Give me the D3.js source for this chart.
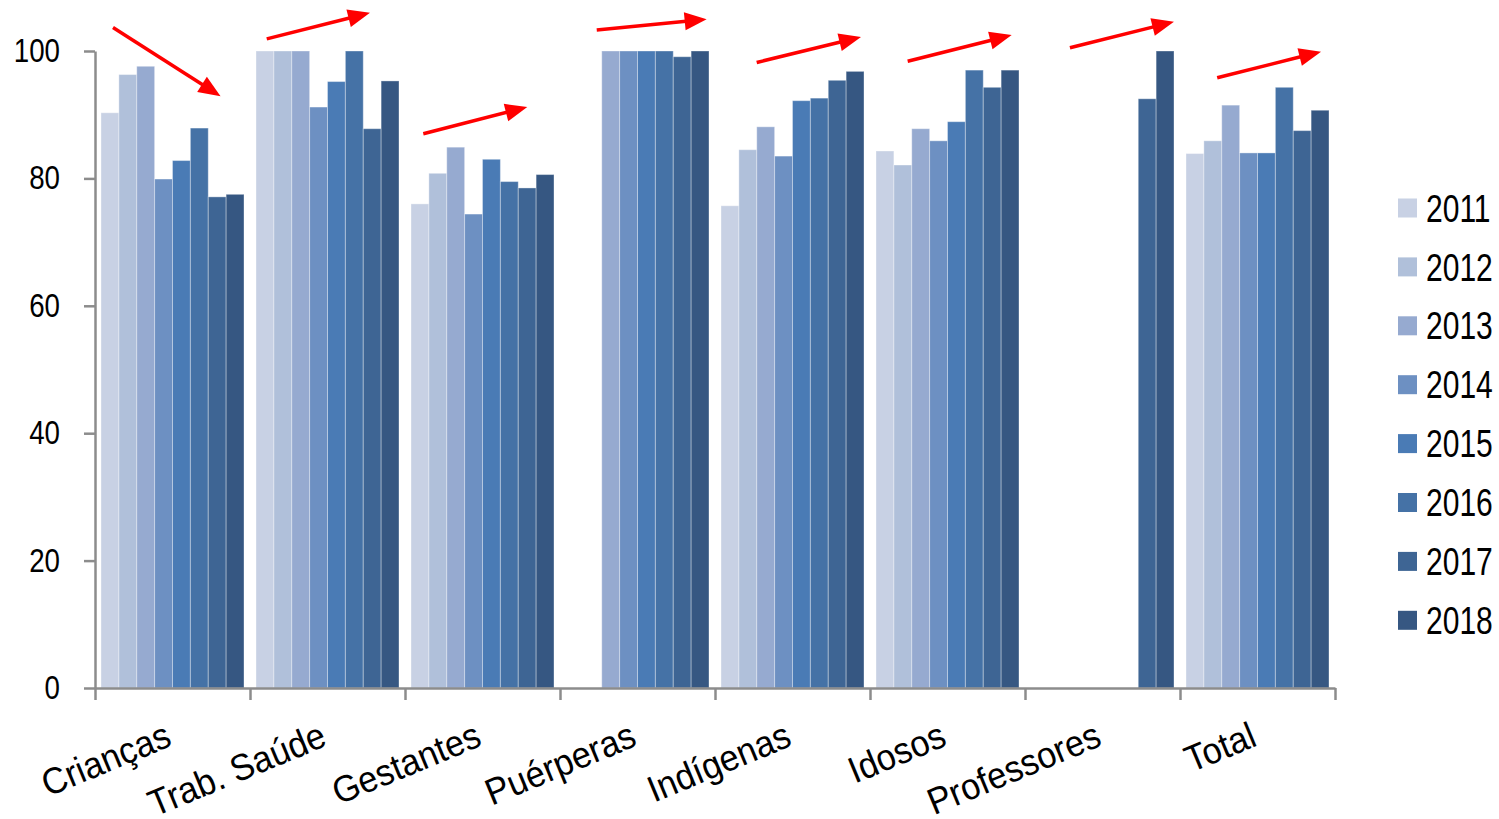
<!DOCTYPE html>
<html>
<head>
<meta charset="utf-8">
<script src="https://cdn.jsdelivr.net/npm/d3@7"></script>
<style>
  html, body { margin: 0; padding: 0; background: #fff; }
  svg { display: block; }
</style>
</head>
<body>
<svg id="chart" width="1499" height="819"></svg>
<script>
// ---- data ----
const categories = ["Crianças", "Trab. Saúde", "Gestantes", "Puérperas", "Indígenas", "Idosos", "Professores", "Total"];
const years = ["2011", "2012", "2013", "2014", "2015", "2016", "2017", "2018"];
const v2011 = [90.3, 100, 76.0, null, 75.7, 84.3, null, 83.9];
const v2012 = [96.3, 100, 80.8, null, 84.5, 82.1, null, 85.9];
const v2013 = [97.6, 100, 84.9, 100, 88.1, 87.8, null, 91.5];
const v2014 = [79.9, 91.2, 74.4, 100, 83.5, 85.9, null, 84.0];
const v2015 = [82.8, 95.2, 83.0, 100, 92.2, 88.9, null, 84.0];
const v2016 = [87.9, 100, 79.5, 100, 92.6, 97.0, null, 94.3];
const v2017 = [77.1, 87.8, 78.5, 99.1, 95.4, 94.3, 92.5, 87.5];
const v2018 = [77.5, 95.3, 80.6, 100, 96.8, 97.0, 100, 90.7];
const seriesValues = [v2011, v2012, v2013, v2014, v2015, v2016, v2017, v2018];
const yTicks = [0, 20, 40, 60, 80, 100];
const colors = ["#C8D1E4", "#B0C0DA", "#96AAD0", "#6D90C2", "#4A7BB5", "#4572A6", "#3E6594", "#365782"];
// trend arrows (position in category units, value units)
const arrowFromPos = [0.116, 1.108, 2.118, 3.237, 4.269, 5.243, 6.29, 7.24];
const arrowToPos   = [0.81, 1.774, 2.789, 3.946, 4.942, 5.914, 6.961, 7.91];
const arrowFromVal = [103.7, 101.9, 87.0, 103.3, 98.2, 98.4, 100.5, 95.8];
const arrowToVal   = [92.9, 106.0, 91.2, 105.0, 102.2, 102.5, 104.6, 99.9];

// ---- layout ----
const svg = d3.select("#chart");
const plotL = 95, plotR = 1335, plotT = 51, plotB = 688;
const fontFam = "'Liberation Sans', Arial, sans-serif";
const axisColor = "#8C8C8C";

const y = d3.scaleLinear().domain([0, 100]).range([plotB, plotT]);
const x0 = d3.scaleBand().domain(categories).range([plotL, plotR]).paddingInner(12 / 155).paddingOuter(6 / 155);
const x1 = d3.scaleBand().domain(years).range([0, x0.bandwidth()]);
const xi = d3.scaleLinear().domain([0, categories.length]).range([plotL, plotR]);
const color = d3.scaleOrdinal().domain(years).range(colors);

// bars
const barData = [];
categories.forEach((c, ci) => {
  years.forEach((yr, yi) => {
    const v = seriesValues[yi][ci];
    if (v != null) barData.push({ c, yr, v });
  });
});
svg.append("g").selectAll("rect").data(barData).join("rect")
  .attr("x", d => x0(d.c) + x1(d.yr))
  .attr("y", d => y(d.v))
  .attr("width", x1.bandwidth())
  .attr("height", d => y(0) - y(d.v))
  .attr("fill", d => color(d.yr))
  .attr("stroke", "rgba(255,255,255,0.35)")
  .attr("stroke-width", 1);

// y axis
const yTickSize = 11, yTickPad = 24, ySx = 0.84;
const yAxis = svg.append("g").attr("transform", `translate(${plotL},0)`)
  .call(d3.axisLeft(y).tickValues(yTicks).tickSize(yTickSize).tickSizeOuter(0).tickPadding(yTickPad));
yAxis.select(".domain").attr("stroke", axisColor).attr("stroke-width", 2.5);
yAxis.selectAll(".tick line").attr("stroke", axisColor).attr("stroke-width", 2.5);
yAxis.selectAll(".tick text")
  .attr("font-family", fontFam).attr("font-size", 33).attr("fill", "#000")
  .attr("x", -(yTickSize + yTickPad) / ySx)
  .attr("transform", `scale(${ySx},1)`);

// x axis with ticks at category boundaries
const xAxis = svg.append("g").attr("transform", `translate(0,${plotB})`)
  .call(d3.axisBottom(xi).tickValues(d3.range(categories.length + 1)).tickFormat("").tickSize(12).tickSizeOuter(0));
xAxis.select(".domain").attr("stroke", axisColor).attr("stroke-width", 2.5);
xAxis.selectAll(".tick line").attr("stroke", axisColor).attr("stroke-width", 2.5);

// category labels
svg.append("g").selectAll("text").data(categories).join("text")
  .attr("transform", d => `translate(${x0(d) + x0.bandwidth() / 2 + 1},745) rotate(-22.5) scale(0.93,1)`)
  .attr("text-anchor", "end")
  .attr("font-family", fontFam)
  .attr("font-size", 37)
  .attr("fill", "#000")
  .text(d => d);

// arrows
const arrows = categories.map((c, i) => ({
  ax: xi(arrowFromPos[i]), ay: y(arrowFromVal[i]),
  bx: xi(arrowToPos[i]), by: y(arrowToVal[i])
}));
const ag = svg.append("g");
arrows.forEach(a => {
  const dx = a.bx - a.ax, dy = a.by - a.ay;
  const len = Math.hypot(dx, dy);
  const ux = dx / len, uy = dy / len;
  const headLen = 22, headW = 9;
  const hx = a.bx - ux * headLen, hy = a.by - uy * headLen;
  ag.append("line")
    .attr("x1", a.ax).attr("y1", a.ay)
    .attr("x2", hx + ux * 4).attr("y2", hy + uy * 4)
    .attr("stroke", "#FF0000").attr("stroke-width", 3.5);
  ag.append("path")
    .attr("d", `M${a.bx},${a.by}L${hx - uy * headW},${hy + ux * headW}L${hx + uy * headW},${hy - ux * headW}Z`)
    .attr("fill", "#FF0000");
});

// legend
const lg = svg.append("g");
years.forEach((yr, i) => {
  const cy = 208 + i * 58.9;
  lg.append("rect").attr("x", 1398).attr("y", cy - 9.5).attr("width", 19).attr("height", 19).attr("fill", color(yr));
  lg.append("text").attr("transform", `translate(1426,${cy}) scale(0.79,1)`).attr("dy", "0.36em")
    .attr("font-family", fontFam).attr("font-size", 38).attr("fill", "#000").text(yr);
});
</script>
</body>
</html>
